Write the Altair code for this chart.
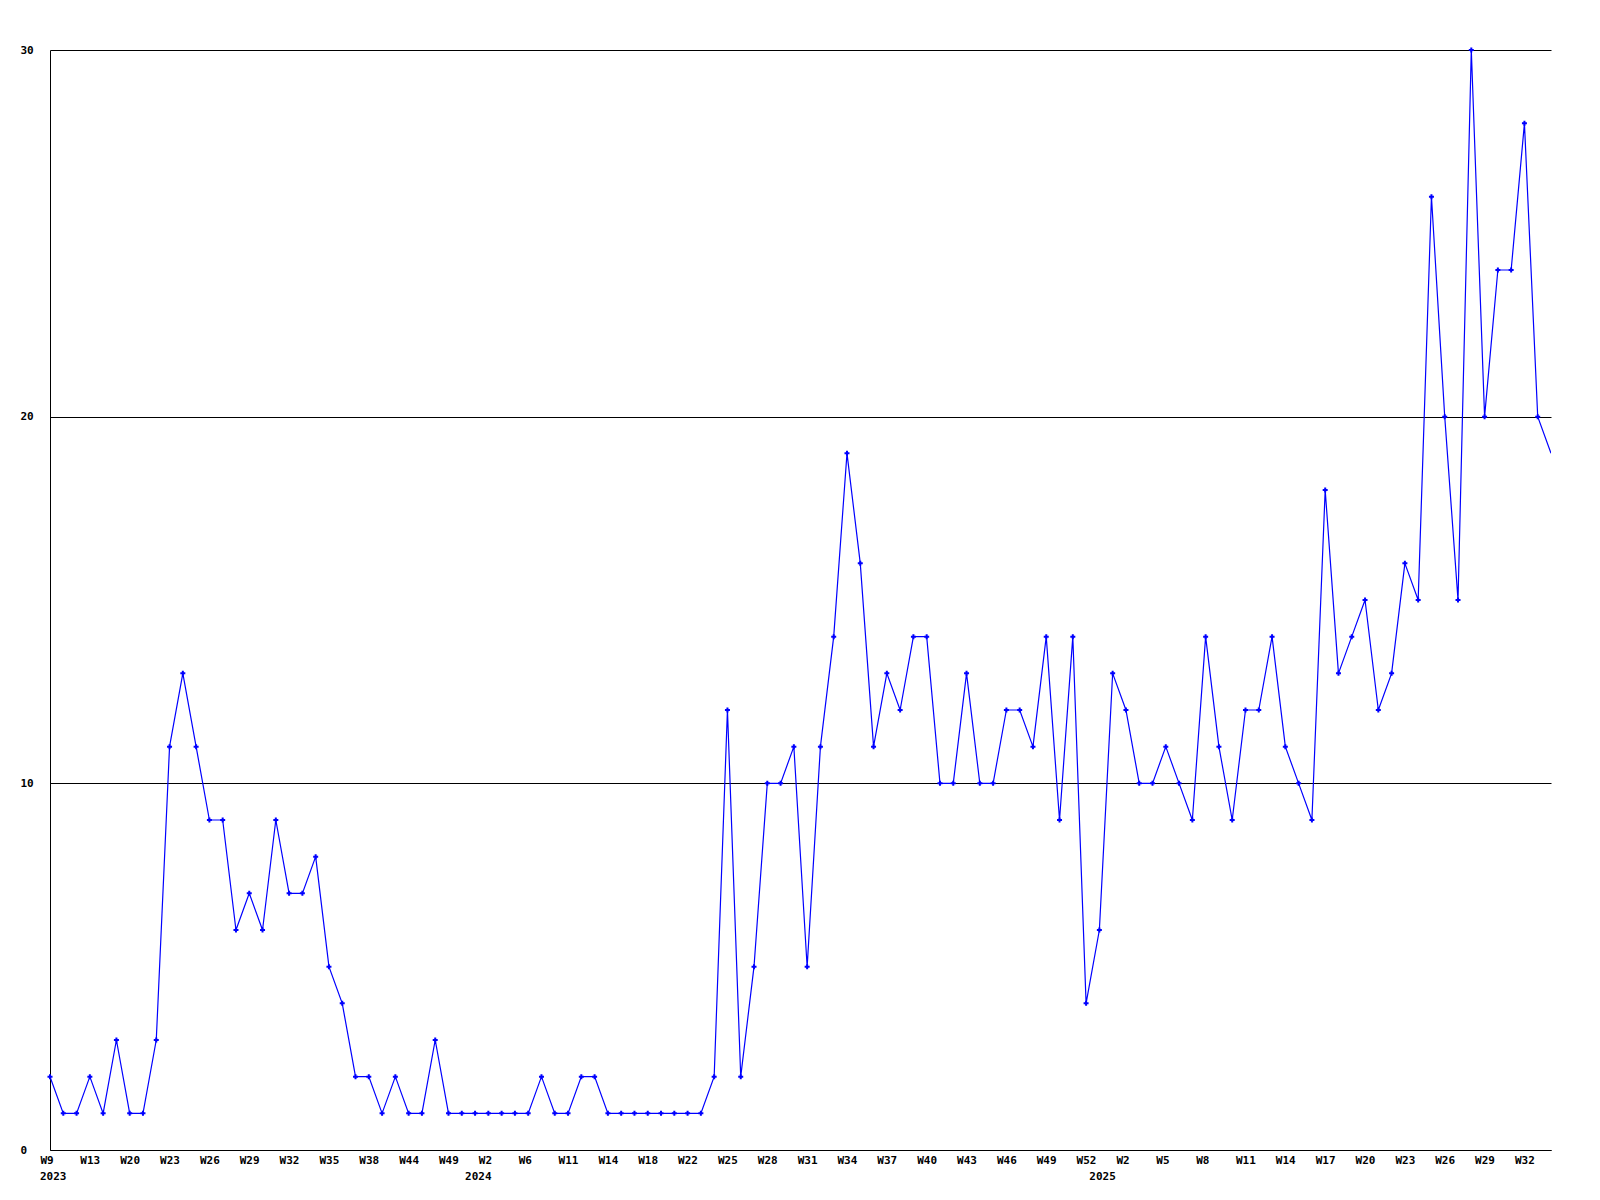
import altair as alt
import pandas as pd

# weekly counts, one per point (index 0 = 2023 W9)
values = [
    2, 1, 1, 2, 1, 3, 1, 1, 3, 11,
    13, 11, 9, 9, 6, 7, 6, 9, 7, 7,
    8, 5, 4, 2, 2, 1, 2, 1, 1, 3,
    1, 1, 1, 1, 1, 1, 1, 2, 1, 1,
    2, 2, 1, 1, 1, 1, 1, 1, 1, 1,
    2, 12, 2, 5, 10, 10, 11, 5, 11, 14,
    19, 16, 11, 13, 12, 14, 14, 10, 10, 13,
    10, 10, 12, 12, 11, 14, 9, 14, 4, 6,
    13, 12, 10, 10, 11, 10, 9, 14, 11, 9,
    12, 12, 14, 11, 10, 9, 18, 13, 14, 15,
    12, 13, 16, 15, 26, 20, 15, 30, 20, 24,
    24, 28, 20, 19,
]

# tick labels shown on every third point
week_labels = [
    "W9", "W13", "W20", "W23", "W26", "W29", "W32", "W35", "W38", "W44",
    "W49", "W2", "W6", "W11", "W14", "W18", "W22", "W25", "W28", "W31",
    "W34", "W37", "W40", "W43", "W46", "W49", "W52", "W2", "W5", "W8",
    "W11", "W14", "W17", "W20", "W23", "W26", "W29", "W32",
]

# year labels and the point index where each year starts
year_labels = ["2023", "2024", "2025"]
year_index = [0, 32, 79]

y_ticks = [0, 10, 20, 30]

W, H = 1501, 1100
FONT = "DejaVu Sans Mono"
BLUE = "#0000ff"

n = len(values)
df = pd.DataFrame({"i": list(range(n)), "v": values})
years_df = pd.DataFrame({"i": year_index, "year": year_labels})

label_arr = "[" + ",".join("'%s'" % s for s in week_labels) + "]"

xscale = alt.Scale(domain=[0, n - 1], nice=False, zero=False)
yscale = alt.Scale(domain=[0, 30], nice=False)

x_axis = alt.Axis(
    values=list(range(0, 3 * len(week_labels), 3)),
    labelExpr=label_arr + "[round(datum.value / 3)]",
    title=None,
    grid=False,
    ticks=False,
    tickSize=0,
    labelAlign="left",
    labelOffset=-10,
    labelPadding=4,
    labelOverlap=False,
    labelFont=FONT,
    labelFontWeight="bold",
    labelFontSize=11,
    labelColor="#000000",
    domainColor="#000000",
    domainWidth=1,
)

y_axis = alt.Axis(
    values=y_ticks,
    title=None,
    grid=True,
    gridColor="#000000",
    gridOpacity=1,
    gridWidth=1,
    ticks=False,
    tickSize=0,
    labelAlign="left",
    labelBaseline="middle",
    labelPadding=30,
    labelFont=FONT,
    labelFontWeight="bold",
    labelFontSize=11,
    labelColor="#000000",
    domainColor="#000000",
    domainWidth=1,
)

line = alt.Chart(df).mark_line(color=BLUE, strokeWidth=1.2, clip=True).encode(
    x=alt.X("i:Q", scale=xscale, axis=x_axis),
    y=alt.Y("v:Q", scale=yscale, axis=y_axis),
)

points = (
    alt.Chart(df)
    .transform_filter(alt.datum.i < n - 1)
    .mark_point(shape="cross", filled=True, size=25, color=BLUE, opacity=1)
    .encode(x=alt.X("i:Q", scale=xscale), y=alt.Y("v:Q", scale=yscale))
)

years = (
    alt.Chart(years_df)
    .mark_text(
        align="left",
        baseline="top",
        dx=-10,
        font=FONT,
        fontWeight="bold",
        fontSize=11,
        color="#000000",
    )
    .encode(x=alt.X("i:Q", scale=xscale), y=alt.value(H + 21), text="year:N")
)

chart = (
    alt.layer(line, points, years)
    .properties(
        width=W,
        height=H,
        autosize=alt.AutoSizeParams(type="none"),
        padding={"left": 42, "top": 42, "right": 20, "bottom": 40},
        background="#ffffff",
    )
    .configure_view(strokeWidth=0)
)

chart.save("out.html", embed_options={"renderer": "svg", "actions": False})
